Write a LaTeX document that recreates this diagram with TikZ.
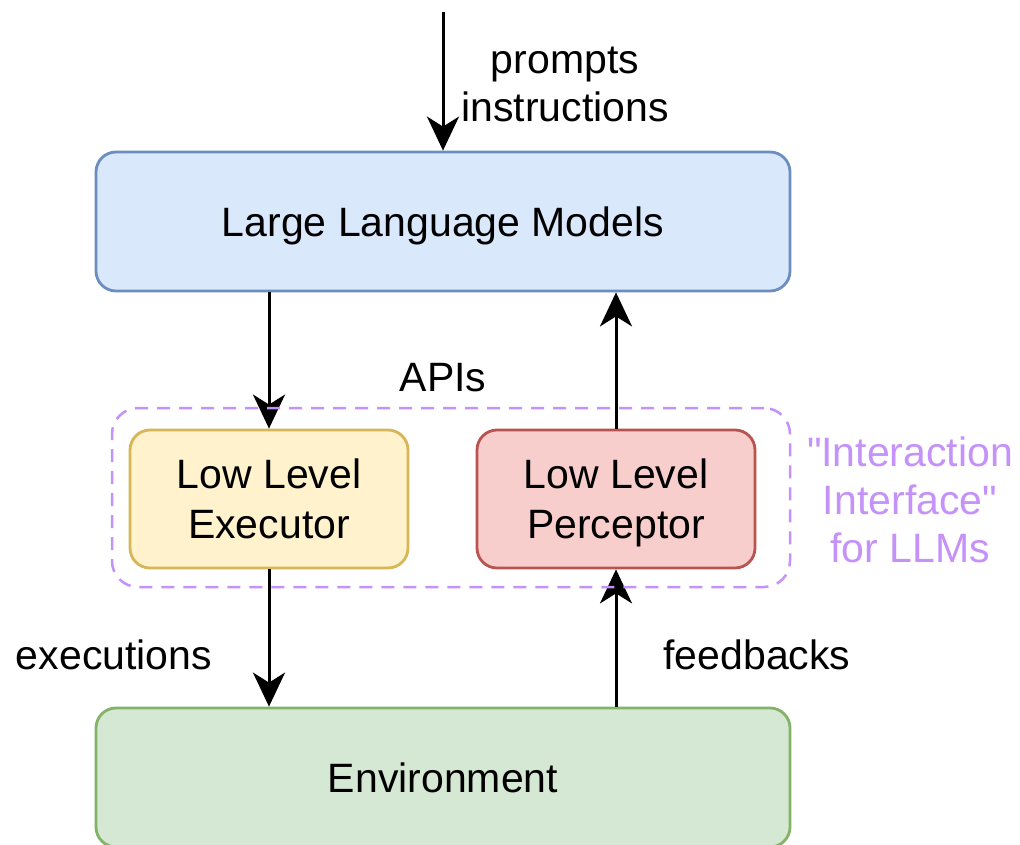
\documentclass[tikz,border=0pt]{standalone}
\usepackage{fontspec}
\setmainfont{Liberation Sans}
% same face without TeX ligature mapping, so " stays a straight quote
\newfontfamily\plainsans{Liberation Sans}
\usetikzlibrary{arrows.meta}
\definecolor{llmfill}{HTML}{DAE8FC}
\definecolor{llmline}{HTML}{6C8EBF}
\definecolor{envfill}{HTML}{D5E8D4}
\definecolor{envline}{HTML}{82B366}
\definecolor{exefill}{HTML}{FFF2CC}
\definecolor{exeline}{HTML}{D6B656}
\definecolor{perfill}{HTML}{F8CECC}
\definecolor{perline}{HTML}{B85450}
\definecolor{iface}{HTML}{C492F8}
\tikzset{
  box/.style={draw, line width=2.8pt, rounded corners=20pt, inner sep=0pt,
              text depth=0pt, align=center, font=\fontsize{41}{50}\selectfont},
  flow/.style={line width=3pt, -{Stealth[length=34pt, width=32pt, inset=10pt]}},
  lbl/.style={font=\fontsize{41}{48}\selectfont, align=center, inner sep=0pt},
}
\begin{document}
\begin{tikzpicture}[x=1pt, y=-1pt]
  \useasboundingbox (0,0) rectangle (1020,845);
  \clip (0,0) rectangle (1020,845);
  \fill[white] (0,0) rectangle (1020,845);

  % main blocks
  \node[box, fill=llmfill, draw=llmline, minimum width=694pt, minimum height=139pt]
    (llm) at (443,221.5) {Large Language Models};
  \node[box, fill=envfill, draw=envline, minimum width=694pt, minimum height=139pt]
    (env) at (443,777.5) {Environment};
  \node[box, fill=exefill, draw=exeline, minimum width=278pt, minimum height=138pt]
    (exe) at (269,499) {Low Level\\Executor};
  \node[box, fill=perfill, draw=perline, minimum width=278pt, minimum height=138pt]
    (per) at (616,499) {Low Level\\Perceptor};

  % input from above
  \coordinate (top) at (443,12);
  \draw[flow] (top) -- (llm.north);
  \node[lbl] (prm) at (565,84) {prompts\\instructions};

  % flows through the interface
  \draw[flow] (llm.south -| exe.north) -- (exe.north);
  \draw[flow] (per.north) -- (llm.south -| per.north);
  \draw[flow] (exe.south) -- (env.north -| exe.south);
  \draw[flow] (env.north -| per.south) -- (per.south);

  \node[lbl] (apis) at (443,378) {APIs};
  \node[lbl] (exl) at (114,655) {executions};
  \node[lbl] (fbl) at (757,655) {feedbacks};

  % dashed interaction interface frame
  \node[draw=iface, dash pattern=on 13pt off 9pt, line width=2.5pt,
        rounded corners=26pt, minimum width=678pt, minimum height=179pt]
    (frame) at (451,497.5) {};
  \node[lbl, text=iface, font=\plainsans\fontsize{41}{48}\selectfont] (ift) at (910,500)
    {"Interaction\\Interface"\\for LLMs};
\end{tikzpicture}
\end{document}
